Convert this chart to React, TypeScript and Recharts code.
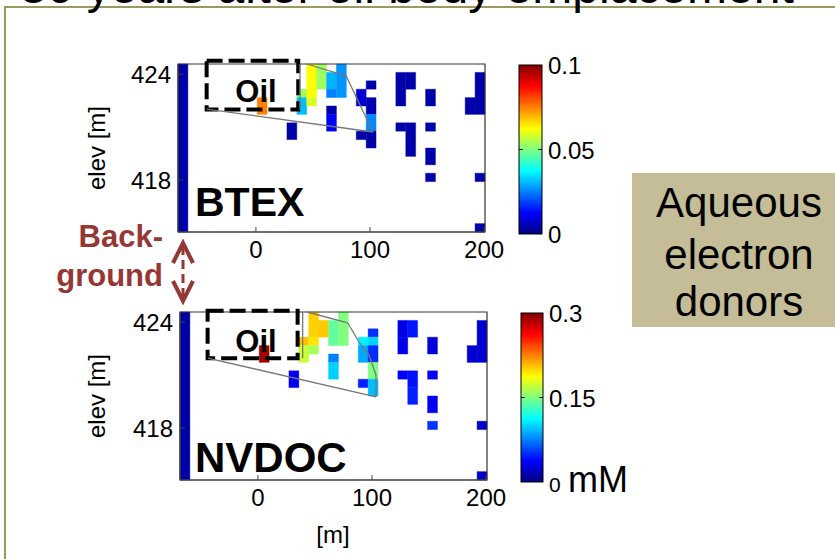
import React from 'react';
import { ScatterChart, Scatter, XAxis, YAxis, ReferenceArea, ReferenceLine } from 'recharts';

const FONT = '"Liberation Sans", Arial, sans-serif';

const X_TICKS = [0, 100, 200];
const Y_TICKS = [418, 424];
const X_DOMAIN: [number, number] = [-68.3, 200.8];
const Y_DOMAIN: [number, number] = [415.06, 424.57];

// model grid: left edge, column width, top elevation, row height (m)
const GRID = { x0: -68.3, dx: 8.68, yTop: 424.57, dy: 0.4755 };

// [column, first row, last row, concentration (mM)]
const btexCells = [
  [0, 0, 19, 0.004],
  [8, 4, 5, 0.075],
  [11, 7, 8, 0.004],
  [12, 3, 3, 0.053],
  [12, 4, 5, 0.031],
  [13, 0, 3, 0.0625],
  [13, 4, 4, 0.059],
  [14, 0, 2, 0.053],
  [15, 1, 2, 0.03],
  [15, 3, 3, 0.025],
  [15, 5, 5, 0.004],
  [15, 6, 7, 0.012],
  [16, 0, 3, 0.027],
  [18, 3, 4, 0.008],
  [18, 8, 8, 0.004],
  [19, 2, 2, 0.004],
  [19, 4, 5, 0.005],
  [19, 6, 7, 0.026],
  [19, 8, 9, 0.004],
  [22, 1, 4, 0.004],
  [22, 7, 7, 0.004],
  [23, 1, 2, 0.004],
  [23, 7, 10, 0.004],
  [25, 3, 4, 0.004],
  [25, 7, 7, 0.004],
  [25, 10, 11, 0.004],
  [25, 13, 13, 0.004],
  [29, 4, 5, 0.004],
  [30, 1, 5, 0.004],
  [30, 13, 13, 0.004],
  [30, 19, 19, 0.004],
];

const nvdocCells = [
  [0, 0, 19, 0.012],
  [8, 4, 5, 0.29],
  [11, 7, 8, 0.033],
  [12, 3, 3, 0.206],
  [12, 4, 5, 0.171],
  [13, 0, 2, 0.201],
  [13, 3, 3, 0.195],
  [13, 4, 4, 0.162],
  [14, 1, 2, 0.203],
  [15, 1, 3, 0.142],
  [15, 5, 5, 0.075],
  [15, 6, 7, 0.099],
  [16, 0, 3, 0.15],
  [18, 3, 3, 0.108],
  [18, 4, 5, 0.087],
  [18, 8, 8, 0.047],
  [19, 2, 2, 0.051],
  [19, 3, 3, 0.1],
  [19, 4, 5, 0.051],
  [19, 6, 7, 0.15],
  [19, 8, 9, 0.093],
  [22, 1, 2, 0.03],
  [22, 3, 4, 0.03],
  [22, 7, 7, 0.035],
  [23, 1, 2, 0.044],
  [23, 7, 8, 0.042],
  [23, 9, 10, 0.047],
  [25, 3, 4, 0.027],
  [25, 7, 7, 0.035],
  [25, 10, 11, 0.035],
  [25, 13, 13, 0.052],
  [29, 4, 5, 0.024],
  [30, 1, 5, 0.024],
  [30, 13, 13, 0.022],
  [30, 19, 19, 0.022],
];

const btexScale = [0, 0.05, 0.1];
const nvdocScale = [0, 0.15, 0.3];

// oil body: dashed box [x1, x2, elev1, elev2] and plume outline [x, elev]
const btexOilBox = [-43.2, 37.1, 422.0, 424.75];
const btexOutline = [[44.5, 424.57], [79, 423.9], [102.6, 420.72], [-43.2, 422.02]];
const btexOilEdge = [[38.6, 424.57], [38.6, 422.0]];

const nvdocOilBox = [-44.1, 34.8, 421.95, 424.64];
const nvdocOutline = [
  [43, 424.57], [78.7, 423.96], [88.6, 422.87], [97.4, 422.13],
  [103.5, 421.0], [103.5, 419.76], [-43.9, 421.96],
];
const nvdocOilEdge = [[39.2, 424.57], [39.2, 421.96]];

function jet(t: number) {
  const c = (v: number) => Math.round(255 * Math.max(0, Math.min(1, v)));
  const s = Math.max(0, Math.min(1, t));
  const r = c(1.5 - Math.abs(4 * s - 3));
  const g = c(1.5 - Math.abs(4 * s - 2));
  const b = c(1.5 - Math.abs(4 * s - 1));
  return `rgb(${r},${g},${b})`;
}

const JET_STOPS = [0, 0.125, 0.375, 0.625, 0.875, 1];

function Panel({ cells, vmax, box, outline, edge, left, top, height }: any) {
  const centers = cells.map(([c, r0, r1, v]: number[]) => ({
    x: GRID.x0 + GRID.dx * (c + 0.5),
    y: GRID.yTop - GRID.dy * ((r0 + r1 + 1) / 2),
    v,
  }));
  const tickStyle = { fill: '#000', fontSize: 24, fontFamily: FONT };
  return (
    <div style={{ position: 'absolute', left, top }}>
      <ScatterChart width={437} height={height} margin={{ top: 10, right: 30, bottom: 0, left: 0 }}>
        <XAxis
          type="number"
          dataKey="x"
          domain={X_DOMAIN}
          ticks={X_TICKS}
          allowDataOverflow
          height={height - 178}
          tickSize={-5}
          tickMargin={14}
          stroke="#444"
          tick={tickStyle}
        />
        <YAxis
          type="number"
          dataKey="y"
          domain={Y_DOMAIN}
          ticks={Y_TICKS}
          allowDataOverflow
          width={100}
          tickSize={-5}
          tickMargin={12}
          stroke="#444"
          tick={tickStyle}
        />
        {cells.map(([c, r0, r1, v]: number[], i: number) => (
          <ReferenceArea
            key={`cell-${i}`}
            x1={GRID.x0 + GRID.dx * c}
            x2={GRID.x0 + GRID.dx * (c + 1)}
            y1={GRID.yTop - GRID.dy * (r1 + 1)}
            y2={GRID.yTop - GRID.dy * r0}
            fill={jet(v / vmax)}
            fillOpacity={1}
            stroke={jet(v / vmax)}
            strokeWidth={0.4}
            ifOverflow="visible"
          />
        ))}
        <Scatter data={centers} isAnimationActive={false} fill="none" shape={() => <g />} />
        {outline.slice(1).map((p: number[], i: number) => (
          <ReferenceLine
            key={`ol-${i}`}
            segment={[{ x: outline[i][0], y: outline[i][1] }, { x: p[0], y: p[1] }]}
            stroke="#777"
            strokeWidth={1.3}
            ifOverflow="visible"
          />
        ))}
        <ReferenceLine
          segment={[{ x: edge[0][0], y: edge[0][1] }, { x: edge[1][0], y: edge[1][1] }]}
          stroke="#777"
          strokeWidth={1.3}
          ifOverflow="visible"
        />
        <ReferenceArea
          x1={X_DOMAIN[0]}
          x2={X_DOMAIN[1]}
          y1={Y_DOMAIN[0]}
          y2={Y_DOMAIN[1]}
          fill="none"
          stroke="#333"
          strokeWidth={1.2}
          ifOverflow="visible"
        />
        <ReferenceArea
          x1={box[0]}
          x2={box[1]}
          y1={box[2]}
          y2={box[3]}
          fill="none"
          fillOpacity={0}
          stroke="#000"
          strokeWidth={4}
          strokeDasharray="16 6"
          ifOverflow="visible"
        />
      </ScatterChart>
    </div>
  );
}

function ColorBar({ id, x, y, w, h, scale }: any) {
  return (
    <g>
      <defs>
        <linearGradient id={id} x1="0" y1="1" x2="0" y2="0">
          {JET_STOPS.map((s) => (
            <stop key={s} offset={s} stopColor={jet(s)} />
          ))}
        </linearGradient>
      </defs>
      <rect x={x} y={y} width={w} height={h} fill={`url(#${id})`} stroke="#000" strokeWidth={1} />
      <line x1={x} x2={x + 4} y1={y + h / 2} y2={y + h / 2} stroke="#000" />
      <line x1={x + w} x2={x + w - 4} y1={y + h / 2} y2={y + h / 2} stroke="#000" />
      {scale.slice(1).map((v: number, i: number) => (
        <text key={v} x={x + w + 6} y={y + h - ((i + 1) * h) / (scale.length - 1) + 9} fontSize={24}>
          {v}
        </text>
      ))}
    </g>
  );
}

export default function App() {
  const red = '#953735';
  return (
    <div
      style={{
        position: 'absolute',
        left: 0,
        top: 0,
        width: 835,
        height: 559,
        overflow: 'hidden',
        background: '#fff',
        fontFamily: FONT,
      }}
    >
      <Panel cells={btexCells} vmax={0.1} box={btexOilBox} outline={btexOutline} edge={btexOilEdge} left={78} top={54} height={218} />
      <Panel cells={nvdocCells} vmax={0.3} box={nvdocOilBox} outline={nvdocOutline} edge={nvdocOilEdge} left={80} top={302} height={248} />
      <svg
        width={835}
        height={559}
        style={{ position: 'absolute', left: 0, top: 0, pointerEvents: 'none', fontFamily: FONT }}
      >
        <line x1={4} y1={7} x2={835} y2={7} stroke="#A09660" strokeWidth={2} />
        <line x1={5} y1={7} x2={5} y2={559} stroke="#A09660" strokeWidth={2} />
        <text x={20} y={3} fontSize={48}>30 years after oil body emplacement</text>

        <text x={96} y={148} fontSize={24} textAnchor="middle" dominantBaseline="central" transform="rotate(-90 96 148)">
          elev [m]
        </text>
        <text x={96} y={396} fontSize={24} textAnchor="middle" dominantBaseline="central" transform="rotate(-90 96 396)">
          elev [m]
        </text>
        <text x={333} y={543} fontSize={24} textAnchor="middle">[m]</text>

        <text x={195} y={216} fontSize={41} fontWeight="bold">BTEX</text>
        <text x={195} y={472} fontSize={42} fontWeight="bold">NVDOC</text>
        <text x={256} y={102} fontSize={31} fontWeight="bold" textAnchor="middle">Oil</text>
        <text x={256} y={352} fontSize={31} fontWeight="bold" textAnchor="middle">Oil</text>

        <text x={163} y={247} fontSize={31} fontWeight="bold" fill={red} textAnchor="end">Back-</text>
        <text x={163} y={286} fontSize={31} fontWeight="bold" fill={red} textAnchor="end">ground</text>
        <polyline points="173,263 183,243 193,263" fill="none" stroke={red} strokeWidth={4} />
        <polyline points="173,281 183,301 193,281" fill="none" stroke={red} strokeWidth={4} />
        <line x1={183} y1={246} x2={183} y2={298} stroke={red} strokeWidth={3} strokeDasharray="9 5" />

        <ColorBar id="cb1" x={519} y={65} w={23} h={169} scale={btexScale} />
        <text x={548} y={243} fontSize={24}>0</text>
        <ColorBar id="cb2" x={521} y={313} w={22} h={169} scale={nvdocScale} />
        <text x={549} y={492} fontSize={21}>0</text>
        <text x={568} y={492} fontSize={36}>mM</text>

        <rect x={632} y={173} width={220} height={154} fill="#C4BD97" />
        <text x={739} y={217} fontSize={42} textAnchor="middle">Aqueous</text>
        <text x={739} y={269} fontSize={42} textAnchor="middle">electron</text>
        <text x={739} y={316} fontSize={42} textAnchor="middle">donors</text>
      </svg>
    </div>
  );
}
